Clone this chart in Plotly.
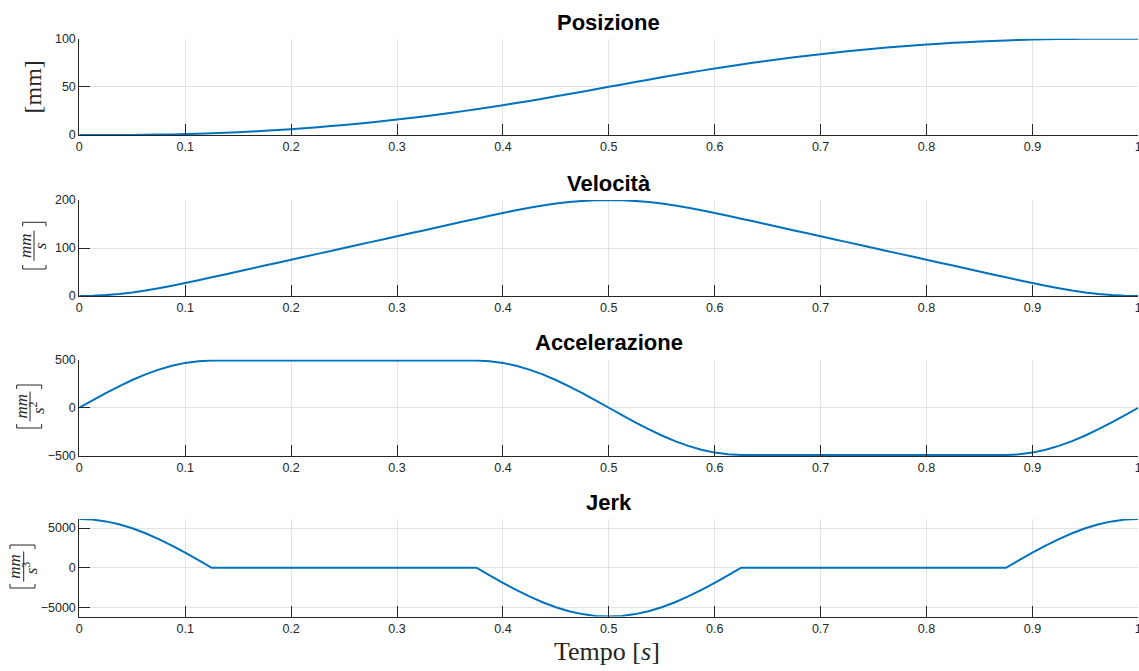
import plotly.graph_objects as go

# ---------------- data ----------------
tempo = [0, 0.0125, 0.025, 0.0375, 0.05, 0.0625, 0.075, 0.0875, 0.1, 0.1125,
         0.125, 0.1375, 0.15, 0.1625, 0.175, 0.1875, 0.2, 0.2125, 0.225, 0.2375,
         0.25, 0.2625, 0.275, 0.2875, 0.3, 0.3125, 0.325, 0.3375, 0.35, 0.3625,
         0.375, 0.3875, 0.4, 0.4125, 0.425, 0.4375, 0.45, 0.4625, 0.475, 0.4875,
         0.5, 0.5125, 0.525, 0.5375, 0.55, 0.5625, 0.575, 0.5875, 0.6, 0.6125,
         0.625, 0.6375, 0.65, 0.6625, 0.675, 0.6875, 0.7, 0.7125, 0.725, 0.7375,
         0.75, 0.7625, 0.775, 0.7875, 0.8, 0.8125, 0.825, 0.8375, 0.85, 0.8625,
         0.875, 0.8875, 0.9, 0.9125, 0.925, 0.9375, 0.95, 0.9625, 0.975, 0.9875, 1.0]

posizione = [0, 0.0020, 0.0159, 0.0534, 0.1255, 0.2423, 0.4131, 0.6456, 0.9459, 1.3188,
             1.7669, 2.2913, 2.8921, 3.5693, 4.3228, 5.1528, 6.0591, 7.0417, 8.1008, 9.2362,
             10.4480, 11.7362, 13.1007, 14.5417, 16.0590, 17.6527, 19.3227, 21.0691, 22.8919, 24.7911,
             26.7667, 28.8186, 30.9457, 33.1454, 35.4129, 37.7421, 40.1252, 42.5531, 45.0156, 47.5017,
             50.0000, 52.4983, 54.9844, 57.4469, 59.8748, 62.2579, 64.5871, 66.8546, 69.0543, 71.1814,
             73.2333, 75.2089, 77.1081, 78.9309, 80.6773, 82.3473, 83.9410, 85.4583, 86.8993, 88.2638,
             89.5520, 90.7638, 91.8992, 92.9583, 93.9409, 94.8472, 95.6772, 96.4307, 97.1079, 97.7087,
             98.2331, 98.6812, 99.0541, 99.3544, 99.5869, 99.7577, 99.8745, 99.9466, 99.9841, 99.9980,
             100.0]

velocita = [0, 0.479, 1.904, 4.240, 7.429, 11.393, 16.035, 21.239, 26.878, 32.813,
            38.898, 45.009, 51.119, 57.229, 63.339, 69.449, 75.559, 81.669, 87.779, 93.889,
            100.000, 106.110, 112.220, 118.330, 124.440, 130.550, 136.660, 142.770, 148.880, 154.990,
            161.100, 167.185, 173.121, 178.760, 183.964, 188.606, 192.570, 195.759, 198.095, 199.520,
            200.000, 199.520, 198.095, 195.759, 192.570, 188.606, 183.964, 178.760, 173.121, 167.185,
            161.100, 154.990, 148.880, 142.770, 136.660, 130.550, 124.440, 118.330, 112.220, 106.110,
            100.000, 93.889, 87.779, 81.669, 75.559, 69.449, 63.339, 57.229, 51.119, 45.009,
            38.898, 32.813, 26.878, 21.239, 16.035, 11.393, 7.429, 4.240, 1.904, 0.479,
            0]

accelerazione = [0, 76.47, 151.05, 221.91, 287.32, 345.64, 395.46, 435.53, 464.89, 482.79,
                 488.81, 488.81, 488.81, 488.81, 488.81, 488.81, 488.81, 488.81, 488.81, 488.81,
                 488.81, 488.81, 488.81, 488.81, 488.81, 488.81, 488.81, 488.81, 488.81, 488.81,
                 488.81, 482.79, 464.89, 435.53, 395.46, 345.64, 287.32, 221.91, 151.05, 76.47,
                 0, -76.47, -151.05, -221.91, -287.32, -345.64, -395.46, -435.53, -464.89, -482.79,
                 -488.81, -488.81, -488.81, -488.81, -488.81, -488.81, -488.81, -488.81, -488.81, -488.81,
                 -488.81, -488.81, -488.81, -488.81, -488.81, -488.81, -488.81, -488.81, -488.81, -488.81,
                 -488.81, -482.79, -464.89, -435.53, -395.46, -345.64, -287.32, -221.91, -151.05, -76.47,
                 0]

jerk = [6142.6, 6067.0, 5842.0, 5473.1, 4969.5, 4343.5, 3610.5, 2788.7, 1898.2, 960.9,
        0, 0, 0, 0, 0, 0, 0, 0, 0, 0,
        0, 0, 0, 0, 0, 0, 0, 0, 0, 0,
        0, -960.9, -1898.2, -2788.7, -3610.5, -4343.5, -4969.5, -5473.1, -5842.0, -6067.0,
        -6142.6, -6067.0, -5842.0, -5473.1, -4969.5, -4343.5, -3610.5, -2788.7, -1898.2, -960.9,
        0, 0, 0, 0, 0, 0, 0, 0, 0, 0,
        0, 0, 0, 0, 0, 0, 0, 0, 0, 0,
        0, 960.9, 1898.2, 2788.7, 3610.5, 4343.5, 4969.5, 5473.1, 5842.0, 6067.0,
        6142.6]

titoli = ["Posizione", "Velocità", "Accelerazione", "Jerk"]
x_ticks = [0, 0.1, 0.2, 0.3, 0.4, 0.5, 0.6, 0.7, 0.8, 0.9, 1]
x_ticklabels = ["0", "0.1", "0.2", "0.3", "0.4", "0.5", "0.6", "0.7", "0.8", "0.9", "1"]
y_ticks = [[0, 50, 100], [0, 100, 200], [-500, 0, 500], [-5000, 0, 5000]]
y_ranges = [[0, 100], [0, 200], [-500, 500], [-6142.6, 6142.6]]
x_label = "Tempo [<i>s</i>]"

# ---------------- layout helpers ----------------
W, H = 1139, 671
def X(px):
    return px / W
def Y(py):
    return 1 - py / H

BLUE = "#0072BD"
AX = "#262626"
GRID = "#e3e3e3"
SANS = "Liberation Sans, Arial, sans-serif"
SERIF = "Liberation Serif, Times New Roman, serif"

# pixel geometry of the four axes (top, bottom)
ax_px = [(38.7, 135.0), (200.0, 296.0), (359.5, 456.0), (519.0, 616.5)]
x_dom = [X(79.3), X(1138.3)]

series = [posizione, velocita, accelerazione, jerk]

fig = go.Figure()
layout = dict(
    width=W, height=H,
    margin=dict(l=0, r=0, t=0, b=0, pad=0, autoexpand=False),
    paper_bgcolor="white", plot_bgcolor="white",
    showlegend=False,
    annotations=[], shapes=[],
)

for k in range(4):
    n = "" if k == 0 else str(k + 1)
    fig.add_trace(go.Scatter(x=tempo, y=series[k], mode="lines",
                             line=dict(color=BLUE, width=2, simplify=False),
                             xaxis="x" + n, yaxis="y" + n, hoverinfo="skip"))
    top, bot = ax_px[k]
    layout["xaxis" + n] = dict(
        domain=x_dom, anchor="y" + n, range=[0, 1], automargin=False,
        tickmode="array", tickvals=x_ticks, ticktext=x_ticklabels,
        ticks="inside", ticklen=11, tickwidth=1, tickcolor=AX,
        showline=True, linecolor=AX, linewidth=1,
        showgrid=True, gridcolor=GRID, gridwidth=1, zeroline=False,
        ticklabeloverflow="allow",
        tickfont=dict(family=SANS, size=12.5, color=AX),
    )
    layout["yaxis" + n] = dict(
        domain=[Y(bot), Y(top)], anchor="x" + n, range=y_ranges[k], automargin=False,
        tickmode="array", tickvals=y_ticks[k],
        ticks="inside", ticklen=11, tickwidth=1, tickcolor=AX,
        showline=True, linecolor=AX, linewidth=1,
        showgrid=True, gridcolor=GRID, gridwidth=1, zeroline=False,
        ticklabeloverflow="allow",
        tickfont=dict(family=SANS, size=12.5, color=AX),
    )
    layout["annotations"].append(dict(
        text="<b>" + titoli[k] + "</b>", xref="paper", yref="paper",
        x=X(608.8), y=Y(top - 16.5), xanchor="center", yanchor="middle",
        showarrow=False, font=dict(family=SANS, size=22, color="black")))

# x label
layout["annotations"].append(dict(
    text=x_label, xref="paper", yref="paper", x=X(607), y=Y(651),
    xanchor="center", yanchor="middle", showarrow=False,
    font=dict(family=SERIF, size=26, color=AX)))

# y label of the first axis
layout["annotations"].append(dict(
    text="[mm]", xref="paper", yref="paper", x=X(32.5), y=Y(87),
    xanchor="center", yanchor="middle", showarrow=False, textangle=-90,
    font=dict(family=SERIF, size=24, color=AX)))

# fraction-style y labels
def add_frac(den, num_x, den_x, bar_x, cy, bx0, bx1, by0, by1, den_dy=0.0):
    layout["annotations"].append(dict(
        text="<i>mm</i>", xref="paper", yref="paper", x=X(num_x), y=Y(cy),
        xanchor="center", yanchor="middle", showarrow=False, textangle=-90,
        font=dict(family=SERIF, size=17, color=AX)))
    layout["annotations"].append(dict(
        text=den, xref="paper", yref="paper", x=X(den_x), y=Y(cy + den_dy),
        xanchor="center", yanchor="middle", showarrow=False, textangle=-90,
        font=dict(family=SERIF, size=17, color=AX)))
    layout["shapes"].append(dict(
        type="line", xref="paper", yref="paper",
        x0=X(bar_x), x1=X(bar_x), y0=Y(cy - 15), y1=Y(cy + 15),
        line=dict(color=AX, width=1)))
    for yy, d in ((by0, 4), (by1, -4)):
        layout["shapes"].append(dict(
            type="path", xref="paper", yref="paper",
            path=f"M {X(bx0)},{Y(yy + d)} L {X(bx0)},{Y(yy)} L {X(bx1)},{Y(yy)} L {X(bx1)},{Y(yy + d)}",
            line=dict(color=AX, width=1)))

add_frac("<i>s</i>", 25.3, 40.5, 34.0, 245.7, 22.7, 46.0, 222.3, 269.0)
add_frac("<i>s</i><sup>2</sup>", 21.0, 36.5, 30.0, 406.5, 16.7, 41.7, 385.0, 428.0, den_dy=1)
add_frac("<i>s</i><sup>3</sup>", 14.3, 29.8, 23.7, 566.5, 10.0, 35.0, 545.0, 588.0, den_dy=1)

fig.update_layout(**layout)
fig.write_html("out.html",
               post_script="document.body.style.margin='0';document.body.style.overflow='hidden';")
